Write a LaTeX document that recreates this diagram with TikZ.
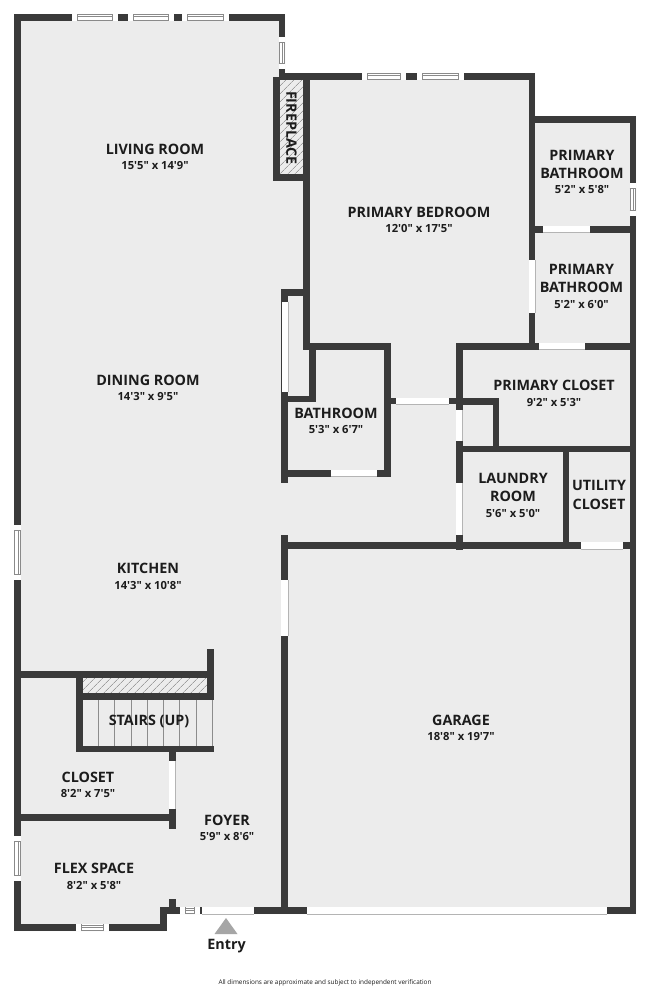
\documentclass[tikz,border=0pt]{standalone}
\usepackage{fontspec}
\setmainfont[Ligatures=TeXOff]{Open Sans}
\usetikzlibrary{patterns.meta}
\definecolor{wallc}{HTML}{3A3A3A}
\definecolor{floorc}{HTML}{ECECEC}
\definecolor{linec}{HTML}{B4B4B4}
\definecolor{winc}{HTML}{8A8A8A}
\definecolor{textc}{HTML}{1C1C1C}
\newcommand{\wall}[4]{\fill[wallc] (#1,#2) rectangle (#3,#4);}
% opening (door): white strip with thin grey sides
\newcommand{\doorh}[3]{\fill[white] (#1,#3) rectangle (#2,#3+6.5);\draw[linec,line width=0.4pt] (#1,#3+6.6)--(#2,#3+6.6);}
\newcommand{\doorv}[3]{\fill[white] (#3,#1) rectangle (#3+6.5,#2);\draw[linec,line width=0.4pt] (#3+6.5,#1)--(#3+6.5,#2);}
% window: white strip, inner panel with grey lines
\newcommand{\winh}[3]{\fill[white] (#1,#3) rectangle (#2,#3+6.5);
 \draw[winc,line width=0.55pt] (#1+5.5,#3+0.6)--(#2-5.5,#3+0.6) (#1+5.5,#3+5.9)--(#2-5.5,#3+5.9) (#1+5.5,#3+2.6)--(#2-5.5,#3+2.6) (#1+5.5,#3)--(#1+5.5,#3+6.5) (#2-5.5,#3)--(#2-5.5,#3+6.5);}
\newcommand{\winv}[3]{\fill[white] (#3,#1) rectangle (#3+6.5,#2);
 \draw[winc,line width=0.55pt] (#3+0.6,#1+5.5)--(#3+0.6,#2-5.5) (#3+5.9,#1+5.5)--(#3+5.9,#2-5.5) (#3+3.9,#1+5.5)--(#3+3.9,#2-5.5) (#3,#1+5.5)--(#3+6.5,#1+5.5) (#3,#2-5.5)--(#3+6.5,#2-5.5);}
\tikzset{
 x=0.75pt,y=-0.75pt,
 roomname/.style={font=\bfseries\fontsize{10.75pt}{13.6pt}\selectfont,text=textc,align=center,inner sep=0pt},
 roomsize/.style={font=\bfseries\fontsize{8.4pt}{10pt}\selectfont,text=textc,align=center,inner sep=0pt},
 hatchbox/.style={pattern={Lines[angle=45,distance=4pt,line width=0.55pt]},pattern color=black!38},
}
\begin{document}
\begin{tikzpicture}
\useasboundingbox (0,0) rectangle (650,990);
\fill[white] (0,0) rectangle (650,990);
% floor
\fill[floorc] (14,14)--(285,14)--(285,73)--(535,73)--(535,116)--(636,116)--(636,914)--(166.7,914)--(166.7,931)--(14,931)--cycle;
% hatches
\fill[floorc] (280,80) rectangle (303,174);
\fill[hatchbox] (280,80) rectangle (303,174);
\fill[floorc] (82.7,677.7) rectangle (207.3,693.3);
\fill[hatchbox] (82.7,677.7) rectangle (207.3,693.3);
% stair treads
\foreach \tx in {98.3,114.7,131.3,147.7,163.3,179.7,196,212.6}
  \draw[black!45,line width=0.55pt] (\tx,700)--(\tx,746);
% outer walls
\wall{14}{14}{20.7}{931}
\wall{14}{14}{285}{20.5}
\wall{278.5}{14}{285}{80}
\wall{279}{73}{535}{79.5}
\wall{529}{73}{535}{345}
\wall{529}{116}{636}{122.6}
\wall{629.6}{116}{636}{914}
\wall{14}{924.3}{166.7}{931}
\wall{160}{907.3}{166.7}{931}
\wall{160}{907.3}{254}{914}
\wall{254}{907.3}{636}{914}
% fireplace
\wall{273}{77}{280}{181}
\wall{273}{174}{309.5}{181}
\wall{303}{73}{309.5}{350}
% primary baths
\wall{529}{225.7}{636}{232.5}
\wall{456}{343}{636}{349.5}
% bathroom
\wall{303}{343}{390.7}{349.5}
\wall{309}{343}{315.5}{402}
\wall{384}{343}{390.7}{476}
\wall{281}{470}{390.7}{476.5}
\wall{281}{396}{315.5}{402}
\wall{281}{289.3}{303}{296}
\wall{281}{289.3}{288}{483}
% hall door wall
\wall{390.7}{398}{456}{404.3}
% primary closet
\wall{456}{343}{462.7}{550}
\wall{456}{398}{499.3}{404.5}
\wall{492.7}{398}{499.3}{450}
\wall{456}{445.7}{636}{452.3}
% laundry / utility
\wall{562.7}{446}{569.3}{549}
% garage
\wall{281}{542.3}{636}{549}
\wall{281}{535}{288}{914}
% stairs
\wall{20}{671}{213.7}{677.7}
\wall{207.3}{649}{213.7}{700}
\wall{76}{671}{82.7}{752.3}
\wall{76}{693.3}{213.7}{700}
\wall{76}{745.7}{213.7}{752.3}
% closet
\wall{169}{746}{175.7}{829.3}
\wall{20}{814.3}{175.7}{821}
\wall{169}{899.3}{175.7}{914}
% windows
\winh{72}{118}{14}\winh{127.5}{174}{14}\winh{182}{229}{14}
\winv{37}{69}{278.5}
\winh{362}{406}{73}\winh{417}{463.5}{73}
\winv{182.7}{216}{629.6}
\winv{525}{580}{14}
\winv{835.7}{880.7}{14}
\winh{76}{108.7}{924.3}
\winh{180.3}{199.5}{907.3}
\wall{199.5}{907.3}{201.7}{914}
% doors
\doorh{543}{590}{225.9}
\doorh{539.3}{585}{343}
\doorv{260}{313}{529}
\doorv{301.7}{391.7}{281.5}
\doorh{396}{449.3}{398}
\doorv{410}{441}{456}
\doorv{483.3}{535}{456}
\doorh{330.7}{376.7}{470}
\doorh{580.7}{623.3}{542.4}
\doorv{580}{636}{281.3}
\doorh{306.7}{606.7}{907.3}
\doorh{201.7}{254.3}{907.3}
\doorv{760.7}{809.3}{169.2}
% entry marker
\fill[black!35] (226,918)--(237.5,934)--(214.5,934)--cycle;
% labels
\node[roomname] (living) at (155,149.5) {LIVING ROOM};
\node[roomsize] (livingS) at (155,166) {15'5" x 14'9"};
\node[roomname] (dining) at (148,380) {DINING ROOM};
\node[roomsize] (diningS) at (148,396) {14'3" x 9'5"};
\node[roomname] (kitchen) at (148,568) {KITCHEN};
\node[roomsize] (kitchenS) at (148,585) {14'3" x 10'8"};
\node[roomname] (bedroom) at (419,212) {PRIMARY BEDROOM};
\node[roomsize] (bedroomS) at (419,228) {12'0" x 17'5"};
\node[roomname] (bathA) at (582,164) {PRIMARY\\BATHROOM};
\node[roomsize] (bathAS) at (582,189) {5'2" x 5'8"};
\node[roomname] (bathB) at (581.5,278) {PRIMARY\\BATHROOM};
\node[roomsize] (bathBS) at (581.5,304) {5'2" x 6'0"};
\node[roomname] (bath) at (336,413) {BATHROOM};
\node[roomsize] (bathS) at (336,429.5) {5'3" x 6'7"};
\node[roomname] (pcloset) at (554,385.5) {PRIMARY CLOSET};
\node[roomsize] (pclosetS) at (554,402) {9'2" x 5'3"};
\node[roomname] (laundry) at (513,487.5) {LAUNDRY\\ROOM};
\node[roomsize] (laundryS) at (513,513) {5'6" x 5'0"};
\node[roomname] (utility) at (599,495) {UTILITY\\CLOSET};
\node[roomname] (garage) at (461,720) {GARAGE};
\node[roomsize] (garageS) at (461,736) {18'8" x 19'7"};
\node[roomname] (stairs) at (149,721) {STAIRS (UP)};
\node[roomname] (closet) at (88,777) {CLOSET};
\node[roomsize] (closetS) at (88,793) {8'2" x 7'5"};
\node[roomname] (foyer) at (227,820) {FOYER};
\node[roomsize] (foyerS) at (227,836) {5'9" x 8'6"};
\node[roomname] (flex) at (94,868) {FLEX SPACE};
\node[roomsize] (flexS) at (94,885) {8'2" x 5'8"};
\node[roomname,rotate=-90] (fire) at (291.5,128) {FIREPLACE};
\node[roomname] (entry) at (226.5,946.5) {Entry};
\node[font=\fontsize{4.8pt}{6pt}\selectfont,text=textc,inner sep=0pt] (note) at (325,983) {All dimensions are approximate and subject to independent verification};
\end{tikzpicture}
\end{document}
